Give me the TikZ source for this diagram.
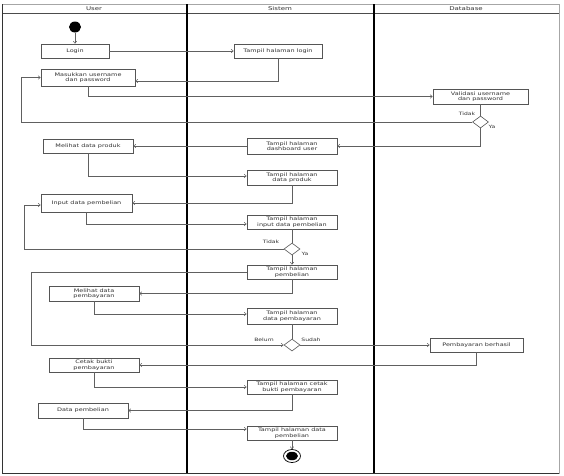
\documentclass[tikz,border=0pt]{standalone}
\usepackage{fontspec}
\usetikzlibrary{arrows.meta,calc,shapes.geometric}
\newfontfamily\lblfont[FakeStretch=1.35]{DejaVu Sans}
\definecolor{edge}{HTML}{555555}
\definecolor{wire}{HTML}{606060}
\definecolor{ink}{HTML}{303030}
\tikzset{
  act/.style={draw=edge, line width=0.6pt, fill=white, rectangle, inner sep=0pt,
    align=center, text=ink, font=\lblfont\fontsize{4.8}{5.4}\selectfont},
  flow/.style={draw=wire, line width=0.5pt, -{Straight Barb[length=2.2pt,width=3.6pt]}},
  plain/.style={draw=wire, line width=0.5pt},
  choice/.style={draw=edge, line width=0.6pt, fill=white, diamond, inner sep=0pt,
    minimum width=16pt, minimum height=12pt},
  tag/.style={text=ink, inner sep=0pt, font=\lblfont\fontsize{4.5}{5}\selectfont},
  lanehead/.style={text=ink, inner sep=0pt, font=\lblfont\fontsize{5.2}{6}\selectfont},
  lane/.style={draw=black, line width=1.2pt},
}
% box helper: name, left, top, right, bottom, text
\newcommand{\actbox}[6]{%
  \node[act, minimum width={#4-#2}, minimum height={#5-#3}] (#1) at ({(#2+#4)/2},{(#3+#5)/2}) {#6};}
\begin{document}
\begin{tikzpicture}[x=1pt,y=-1pt]
\useasboundingbox (0,0) rectangle (564,475);
% swimlane frame
\draw[draw=gray!70, line width=0.7pt] (2,4) rectangle (559,473);
\draw[draw=gray!60!black, line width=0.6pt] (2,13) -- (559,13);
\draw[lane] (187,4) -- (187,473);
\draw[lane] (374,4) -- (374,473);
\draw[draw=gray!40!black, line width=0.8pt] (2,4) -- (2,473) -- (559,473);
\node[lanehead] (hUser) at (94,8.6) {User};
\node[lanehead] (hSistem) at (280,8.6) {Sistem};
\node[lanehead] (hDb) at (466,8.6) {Database};

% start
\node[ellipse, fill=black, minimum width=12pt, minimum height=11pt, inner sep=0pt] (start) at (75,27) {};

% activities
\actbox{login}{41}{44}{109}{58}{Login}
\actbox{tlogin}{234}{44}{322}{58}{Tampil halaman login}
\actbox{masuk}{41}{69}{135}{86}{Masukkan username\\dan password}
\actbox{valid}{433}{89}{528}{104}{Validasi username\\dan password}
\node[choice] (d1) at (480.5,122) {};
\actbox{dash}{247}{138}{337}{154}{Tampil halaman\\dashboard user}
\actbox{lihat}{43}{139}{133}{153}{Melihat data produk}
\actbox{tproduk}{247}{170}{337}{185}{Tampil halaman\\data produk}
\actbox{input}{41}{194}{132}{212}{Input data pembelian}
\actbox{tinput}{247}{215}{337}{229}{Tampil halaman\\input data pembelian}
\node[choice] (d2) at (292,249) {};
\actbox{tbeli}{247}{265}{337}{279}{Tampil halaman\\pembelian}
\actbox{lbayar}{49}{286}{139}{301}{Melihat data\\pembayaran}
\actbox{tbayar}{247}{308}{337}{324}{Tampil halaman\\data pembayaran}
\node[choice] (d3) at (292,345) {};
\actbox{sukses}{430}{338}{523}{352}{Pembayaran berhasil}
\actbox{cetak}{49}{358}{139}{372}{Cetak bukti\\pembayaran}
\actbox{tcetak}{247}{380}{337}{394}{Tampil halaman cetak\\bukti pembayaran}
\actbox{dpem}{38}{403}{128}{418}{Data pembelian}
\actbox{tdpem}{247}{426}{337}{440}{Tampil halaman data\\pembelian}

% end
\node[ellipse, draw=black, line width=0.7pt, fill=white, minimum width=17pt, minimum height=13pt, inner sep=0pt] (finish) at (292,456) {};
\node[ellipse, fill=black, minimum width=12pt, minimum height=8.5pt, inner sep=0pt] (finishdot) at (finish.center) {};

% guard labels
\node[tag] (t1) at (467,114) {Tidak};
\node[tag] (y1) at (492,126.5) {Ya};
\node[tag] (t2) at (271,242) {Tidak};
\node[tag] (y2) at (305,254) {Ya};
\node[tag] (b3) at (264,340) {Belum};
\node[tag] (s3) at (311,340) {Sudah};

% control flow
\draw[flow] (start) -- (login);
\draw[flow] (login) -- (tlogin);
\draw[flow] (tlogin.south) |- ($(masuk.east)+(0,3.5)$);
\draw[flow] (masuk.south) |- (valid.west);
\draw[plain] (valid.south) -- (d1.north);
\draw[flow] (d1.west) -| ($(masuk.west)+(-19,0)$) -- (masuk.west);
\draw[flow] (d1.south) |- (dash.east);
\draw[flow] (dash.west) -- (lihat.east);
\draw[flow] (lihat.south) |- ($(tproduk.west)+(0,-1.5)$);
\draw[flow] (tproduk.south) |- (input.east);
\draw[flow] (input.south) |- ($(tinput.west)+(0,2)$);
\draw[plain] (tinput.south) -- (d2.north);
\draw[flow] (d2.west) -| ($(input.west)+(-16,2)$) -- ($(input.west)+(0,2)$);
\draw[flow] (d2.south) -- (tbeli.north);
\draw[flow] (tbeli.south) |- (lbayar.east);
\draw[flow] (lbayar.south) |- ($(tbayar.west)+(0,-2)$);
\draw[plain] (tbayar.south) -- (d3.north);
\draw[flow] (tbeli.west) -| ($(d3.west)+(-252,0)$) -- (d3.west);
\draw[flow] (d3.east) -- (sukses.west);
\draw[flow] (sukses.south) |- (cetak.east);
\draw[flow] (cetak.south) |- (tcetak.west);
\draw[flow] (tcetak.south) |- (dpem.east);
\draw[flow] (dpem.south) |- ($(tdpem.west)+(0,-4)$);
\draw[flow] (tdpem.south) -- (finish.north);
\end{tikzpicture}
\end{document}
